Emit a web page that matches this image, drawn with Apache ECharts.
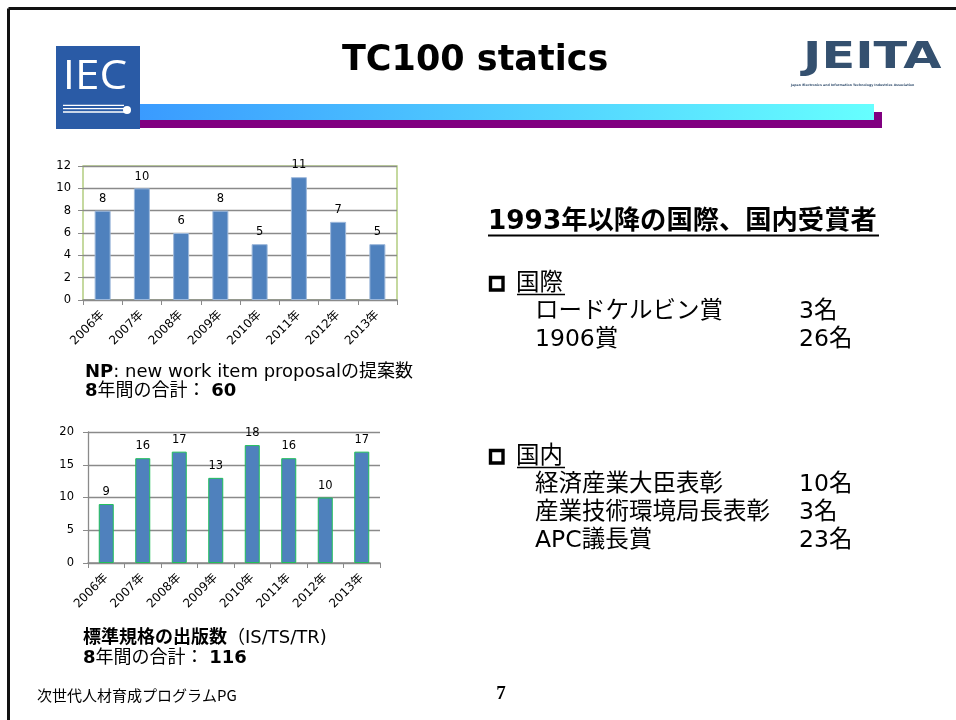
<!DOCTYPE html>
<html>
<head>
<meta charset="utf-8">
<script src="https://cdn.jsdelivr.net/npm/echarts@6/dist/echarts.min.js"></script>
<style>
html,body{margin:0;padding:0;background:#fff;}
#main{width:956px;height:720px;}
</style>
</head>
<body>
<div id="main"></div>
<script>
// ---- data ----
const years = ['2006年','2007年','2008年','2009年','2010年','2011年','2012年','2013年'];
const npCounts = [8, 10, 6, 8, 5, 11, 7, 5];
const pubCounts = [9, 16, 17, 13, 18, 16, 10, 17];
const npAxis = { min: 0, max: 12, interval: 2 };
const pubAxis = { min: 0, max: 20, interval: 5 };
const awardsIntl = [['ロードケルビン賞', '3名'], ['1906賞', '26名']];
const awardsDom = [['経済産業大臣表彰', '10名'], ['産業技術環境局長表彰', '3名'], ['APC議長賞', '23名']];

const F = '"DejaVu Sans", "Noto Sans CJK JP", sans-serif';
const chart = echarts.init(document.getElementById('main'), null, { renderer: 'canvas' });

const gridGray = '#8a8a8a';
function axisLabelStyle() {
  return { fontFamily: F, fontSize: 11.5, color: '#000' };
}

const graphics = [];
// slide border
graphics.push({ type: 'line', shape: { x1: 8.5, y1: 8.5, x2: 956, y2: 8.5 }, style: { stroke: '#111', lineWidth: 3 } });
graphics.push({ type: 'line', shape: { x1: 8.5, y1: 8.5, x2: 8.5, y2: 720 }, style: { stroke: '#111', lineWidth: 3 } });
// header bars
graphics.push({ type: 'rect', shape: { x: 140, y: 112, width: 742, height: 16 }, style: { fill: '#800080' } });
graphics.push({ type: 'rect', shape: { x: 140, y: 104, width: 734, height: 16 },
  style: { fill: new echarts.graphic.LinearGradient(0, 0, 1, 0, [{ offset: 0, color: '#3a9bff' }, { offset: 1, color: '#66ffff' }]) } });
// IEC logo
graphics.push({ type: 'rect', shape: { x: 56, y: 46, width: 84, height: 83 }, style: { fill: '#2a5ba6' } });
graphics.push({ type: 'text', scaleX: 1.1, x: 95, y: 78, style: { text: 'IEC', x: 0, y: 0, align: 'center', verticalAlign: 'middle',
  fontFamily: '"Open Sans", "DejaVu Sans", sans-serif', fontSize: 40, fontWeight: 500, fill: '#ffffff' } });
[105.3, 108.7, 112].forEach(y => graphics.push({ type: 'line', shape: { x1: 63, y1: y, x2: 124, y2: y }, style: { stroke: '#ffffff', lineWidth: 1.3 } }));
graphics.push({ type: 'circle', shape: { cx: 127, cy: 110, r: 4 }, style: { fill: '#ffffff' } });
// JEITA logo
graphics.push({ type: 'text', scaleX: 1.3, x: 803, y: 58, style: { text: 'JEITA', x: 0, y: 0, align: 'left', verticalAlign: 'middle',
  fontFamily: F, fontWeight: 'bold', fontSize: 38, fill: '#34506f' } });
graphics.push({ type: 'text', style: { text: 'Japan Electronics and Information Technology Industries Association', x: 791, y: 85,
  align: 'left', verticalAlign: 'middle', fontFamily: F, fontWeight: 'bold', fontSize: 3.2, fill: '#34506f' } });
// title
graphics.push({ type: 'text', style: { text: 'TC100 statics', x: 342, y: 61, align: 'left', verticalAlign: 'middle',
  fontFamily: F, fontWeight: 'bold', fontSize: 35, fill: '#000' } });

// captions
const capRich = { b: { fontFamily: F, fontSize: 18, fontWeight: 'bold', fill: '#000' } };
graphics.push({ type: 'text', style: { text: '{b|NP}: new work item proposalの提案数', x: 85, y: 372, verticalAlign: 'middle',
  fontFamily: F, fontSize: 18, fill: '#000', rich: capRich } });
graphics.push({ type: 'text', style: { text: '{b|8}年間の合計： {b|60}', x: 85, y: 391, verticalAlign: 'middle',
  fontFamily: F, fontSize: 18, fill: '#000', rich: capRich } });
graphics.push({ type: 'text', style: { text: '{b|標準規格の出版数}（IS/TS/TR)', x: 83, y: 638, verticalAlign: 'middle',
  fontFamily: F, fontSize: 18, fill: '#000', rich: capRich } });
graphics.push({ type: 'text', style: { text: '{b|8}年間の合計： {b|116}', x: 83, y: 658, verticalAlign: 'middle',
  fontFamily: F, fontSize: 18, fill: '#000', rich: capRich } });

// right side text
graphics.push({ type: 'text', style: { text: '1993年以降の国際、国内受賞者', x: 488, y: 222, verticalAlign: 'middle',
  fontFamily: F, fontWeight: 'bold', fontSize: 26.3, fill: '#000' } });
graphics.push({ type: 'line', shape: { x1: 488, y1: 235.5, x2: 879, y2: 235.5 }, style: { stroke: '#000', lineWidth: 2 } });

function section(label, yHead, items) {
  graphics.push({ type: 'rect', shape: { x: 490.5, y: yHead - 6.5, width: 12.5, height: 12.5 }, style: { fill: 'none', stroke: '#000', lineWidth: 3.4 } });
  graphics.push({ type: 'text', style: { text: label, x: 516, y: yHead, verticalAlign: 'middle', fontFamily: F, fontSize: 23.5, fill: '#000' } });
  graphics.push({ type: 'line', shape: { x1: 517, y1: yHead + 10.5, x2: 565, y2: yHead + 10.5 }, style: { stroke: '#000', lineWidth: 1.3 } });
  items.forEach((it, i) => {
    const y = yHead + 28 * (i + 1);
    graphics.push({ type: 'text', style: { text: it[0], x: 535, y: y, verticalAlign: 'middle', fontFamily: F, fontSize: 23.5, fill: '#000' } });
    graphics.push({ type: 'text', style: { text: it[1], x: 799, y: y, verticalAlign: 'middle', fontFamily: F, fontSize: 23.5, fill: '#000' } });
  });
}
section('国際', 284, awardsIntl);
section('国内', 457, awardsDom);

// footer
graphics.push({ type: 'text', style: { text: '次世代人材育成プログラムPG', x: 37, y: 695, verticalAlign: 'middle', fontFamily: '"Noto Sans CJK JP", sans-serif', fontSize: 15, fill: '#000' } });
graphics.push({ type: 'text', style: { text: '7', x: 501, y: 694, align: 'center', verticalAlign: 'middle', fontFamily: '"Liberation Serif", serif', fontWeight: 'bold', fontSize: 19, fill: '#000' } });

const option = {
  backgroundColor: '#ffffff',
  animation: false,
  grid: [
    { left: 83, top: 166, width: 314, height: 134, show: true, borderColor: '#b3cd80', borderWidth: 1.5, containLabel: false },
    { left: 88, top: 432, width: 292, height: 131, show: false, containLabel: false }
  ],
  xAxis: [
    { type: 'category', gridIndex: 0, data: years,
      axisLine: { show: true, lineStyle: { color: gridGray, width: 1.5 } },
      axisTick: { show: true, length: 5, lineStyle: { color: gridGray } },
      axisLabel: { rotate: 45, margin: 13, fontFamily: F, fontSize: 12, color: '#000', interval: 0 } },
    { type: 'category', gridIndex: 1, data: years,
      axisLine: { show: true, lineStyle: { color: gridGray, width: 1.5 } },
      axisTick: { show: true, length: 5, lineStyle: { color: gridGray } },
      axisLabel: { rotate: 45, margin: 13, fontFamily: F, fontSize: 12, color: '#000', interval: 0 } }
  ],
  yAxis: [
    { type: 'value', gridIndex: 0, min: npAxis.min, max: npAxis.max, interval: npAxis.interval,
      axisLine: { show: false },
      axisTick: { show: true, length: 5, lineStyle: { color: gridGray } },
      splitLine: { show: true, lineStyle: { color: gridGray, width: 1.3 } },
      axisLabel: Object.assign(axisLabelStyle(), { margin: 12 }) },
    { type: 'value', gridIndex: 1, min: pubAxis.min, max: pubAxis.max, interval: pubAxis.interval,
      axisLine: { show: true, lineStyle: { color: gridGray, width: 1.3 } },
      axisTick: { show: true, length: 5, lineStyle: { color: gridGray } },
      splitLine: { show: true, lineStyle: { color: gridGray, width: 1.3 } },
      axisLabel: Object.assign(axisLabelStyle(), { margin: 14 }) }
  ],
  series: [
    { type: 'bar', xAxisIndex: 0, yAxisIndex: 0, data: npCounts, barWidth: 16,
      itemStyle: { color: '#4f81bd', borderColor: '#9db8db', borderWidth: 1 },
      label: { show: true, position: 'top', distance: 6, fontFamily: F, fontSize: 11.5, color: '#000' } },
    { type: 'bar', xAxisIndex: 1, yAxisIndex: 1, data: pubCounts, barWidth: 15,
      itemStyle: { color: '#4f81bd', borderColor: '#1fbf5a', borderWidth: 1 },
      label: { show: true, position: 'top', distance: 6, fontFamily: F, fontSize: 11.5, color: '#000' } }
  ],
  graphic: { elements: graphics }
};
chart.setOption(option);
</script>
</body>
</html>
